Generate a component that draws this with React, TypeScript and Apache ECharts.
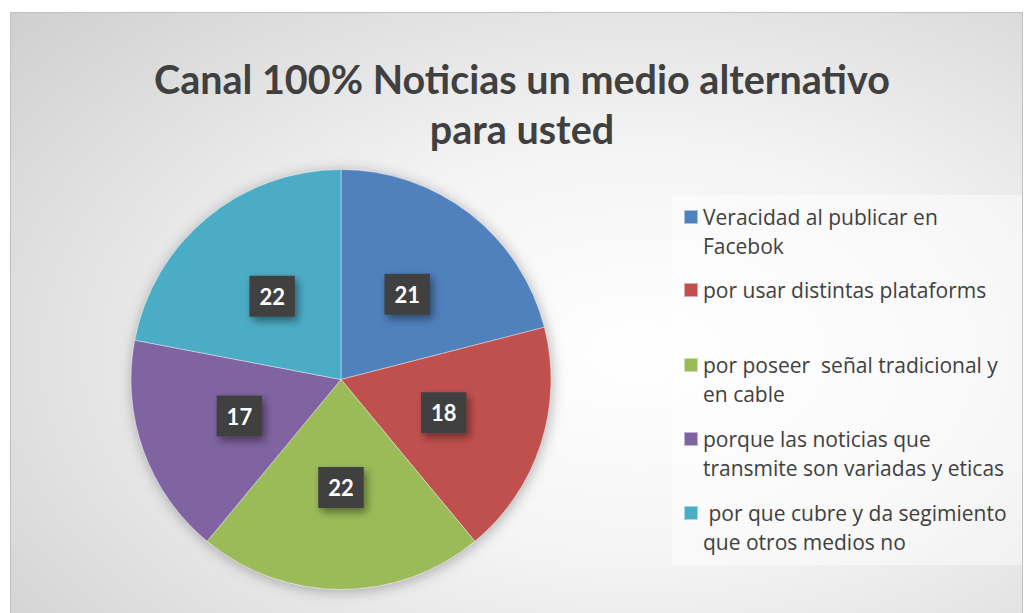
import React, { useEffect, useRef } from "react";
import * as echarts from "echarts";

const titleText = "Canal 100% Noticias un medio alternativo\npara usted";
const categories = [
  "Veracidad al publicar en Facebok",
  "por usar distintas plataforms",
  "por poseer  señal tradicional y en cable",
  "porque las noticias que transmite son variadas y eticas",
  " por que cubre y da segimiento que otros medios no",
];
const legendLines: string[][] = [
  ["Veracidad al publicar en", "Facebok"],
  ["por usar distintas plataforms"],
  ["por poseer  señal tradicional y", "en cable"],
  ["porque las noticias que", "transmite son variadas y eticas"],
  [" por que cubre y da segimiento", "que otros medios no"],
];
const values = [21, 18, 22, 17, 22];
const colors = ["#4F81BD", "#C0504D", "#9BBB59", "#8064A2", "#4BACC6"];
const legendLineY = [217, 290, 365, 439, 513];

const FONT = "Lato, 'Open Sans', sans-serif";
const LEGEND_FONT = "'Open Sans', Lato, sans-serif";
const LH = 29;

export default function App() {
  const ref = useRef<HTMLDivElement>(null);
  useEffect(() => {
    if (!ref.current) return;
    const chart = echarts.init(ref.current, null, { renderer: "svg" });
    const legends = categories.map((name, i) => {
      const lines = legendLines[i];
      const twoLine = lines.length > 1;
      return {
        orient: "vertical" as const,
        left: 683,
        top: twoLine ? legendLineY[i] - LH - LH / 2 : legendLineY[i] - LH / 2,
        padding: 0,
        icon: "rect",
        itemWidth: 14,
        itemHeight: 14,
        selectedMode: false,
        data: [name],
        formatter: () => (twoLine ? "\n" + lines.join("\n") : lines[0]),
        textStyle: {
          fontFamily: LEGEND_FONT,
          fontSize: 21,
          lineHeight: LH,
          color: "#404040",
        },
      };
    });
    chart.setOption({
      animation: false,
      graphic: [
        {
          type: "rect",
          z: -10,
          silent: true,
          shape: { x: 10.5, y: 12.5, width: 1012, height: 620 },
          style: {
            fill: new echarts.graphic.RadialGradient(0.62, 0.55, 0.95, [
              { offset: 0, color: "#ffffff" },
              { offset: 0.35, color: "#f4f4f4" },
              { offset: 1, color: "#c6c6c6" },
            ]),
            stroke: "#c0c0c0",
            lineWidth: 1,
          },
        },
        {
          type: "rect",
          z: -9,
          silent: true,
          shape: { x: 672, y: 195, width: 350, height: 370 },
          style: { fill: "rgba(255,255,255,0.45)" },
        },
      ],
      title: {
        text: titleText,
        left: 522,
        top: 53,
        textAlign: "center",
        padding: 0,
        textStyle: {
          fontFamily: FONT,
          fontSize: 39.5,
          fontWeight: "bold",
          color: "#404040",
          lineHeight: 50,
        },
      },
      legend: legends,
      series: [
        {
          type: "pie",
          silent: true,
          center: [341, 379.5],
          radius: 210,
          z: 1,
          label: { show: false },
          labelLine: { show: false },
          itemStyle: {
            color: "#cccccc",
            shadowBlur: 14,
            shadowColor: "rgba(0,0,0,0.3)",
            shadowOffsetX: 1,
            shadowOffsetY: 2,
          },
          data: [{ value: 1, name: "__shadow" }],
        },
        {
          type: "pie",
          center: [341, 379.5],
          radius: 210,
          startAngle: 90,
          clockwise: true,
          z: 2,
          itemStyle: { borderColor: "rgba(255,255,255,0.5)", borderWidth: 0.8 },
          label: {
            show: true,
            position: "inside",
            formatter: "{c}",
            color: "#ffffff",
            fontFamily: FONT,
            fontSize: 22,
            fontWeight: "bold",
            lineHeight: 23,
            backgroundColor: "#404040",
            padding: [9, 10, 9, 10],
            shadowColor: "rgba(0,0,0,0.45)",
            shadowBlur: 8,
            shadowOffsetX: 3,
            shadowOffsetY: 4,
          },
          labelLine: { show: false },
          data: categories.map((name, i) => ({
            name,
            value: values[i],
            itemStyle: { color: colors[i] },
          })),
        },
      ],
    });
    return () => chart.dispose();
  }, []);
  return (
    <div
      ref={ref}
      style={{
        position: "fixed",
        left: 0,
        top: 0,
        width: 1025,
        height: 613,
        background: "#ffffff",
      }}
    />
  );
}
